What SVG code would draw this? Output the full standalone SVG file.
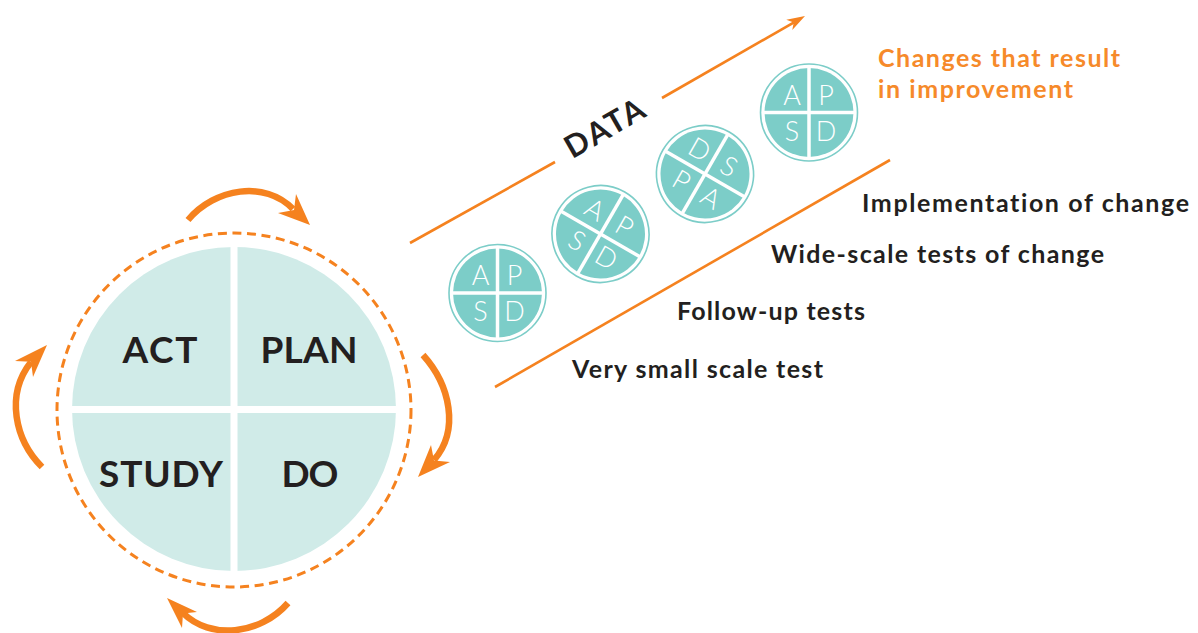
<svg xmlns="http://www.w3.org/2000/svg" width="1198" height="633" viewBox="0 0 1198 633">
  <style>
    text { font-variant-ligatures: none; }
    .quad { font-family: Lato, "Noto Sans", sans-serif; font-weight: 700; font-size: 37px; fill: #231f20; text-anchor: middle; }
    .label { font-family: Lato, "Noto Sans", sans-serif; font-weight: 700; font-size: 25px; fill: #231f20; }
    .result { font-family: Lato, "Noto Sans", sans-serif; font-weight: 700; font-size: 25px; fill: #f68a2a; }
    .data { font-family: Lato, "Noto Sans", sans-serif; font-weight: 700; font-size: 31px; fill: #231f20; text-anchor: middle; }
    .cyc { fill: none; stroke: #f5821f; stroke-width: 6.5; }
    .head { fill: #f5821f; }
    .trend { fill: none; stroke: #f5821f; stroke-width: 2.6; }
    .ring { fill: none; stroke: #7ccdc8; stroke-width: 1.6; }
    .disc { fill: #7ccdc8; }
    .cross { stroke: #ffffff; stroke-width: 3.5; }
    .ltr { font-family: Lato, "Noto Sans", sans-serif; font-weight: 300; font-size: 27px; fill: #ffffff; text-anchor: middle; }
  </style>
  <defs>
    <!-- small PDSA cycle: ring, disc and white cross centred on the origin -->
    <g id="mini">
      <circle class="ring" r="48.5"/>
      <circle class="disc" r="44.5"/>
      <line class="cross" x1="-46" y1="0" x2="46" y2="0"/>
      <line class="cross" x1="0" y1="-46" x2="0" y2="46"/>
    </g>
  </defs>

  <rect width="1198" height="633" fill="#ffffff"/>

  <!-- main PDSA wheel -->
  <g id="wheel">
    <circle cx="234" cy="409" r="162" fill="#d0ebe8"/>
    <line x1="234" y1="240" x2="234" y2="580" stroke="#ffffff" stroke-width="7"/>
    <line x1="65" y1="409.5" x2="403" y2="409.5" stroke="#ffffff" stroke-width="7"/>
    <circle cx="234" cy="410" r="177" fill="none" stroke="#f5821f" stroke-width="3" stroke-dasharray="9 5.6"/>
  </g>
  <g id="act"><text class="quad" x="160" y="363" textLength="75">ACT</text></g>
  <g id="plan"><text class="quad" x="309" y="363" textLength="97">PLAN</text></g>
  <g id="study"><text class="quad" x="161" y="487" textLength="124">STUDY</text></g>
  <g id="do"><text class="quad" x="310" y="487" textLength="57">DO</text></g>

  <!-- cycle arrows and trend lines -->
  <g id="connectors">
    <path class="cyc" d="M188,220 C215,188 265,180 293,209"/>
    <polygon class="head" points="310,225 278,213 294,210 296,194"/>
    <path class="cyc" d="M423,355 C450,385 460,430 434,460"/>
    <polygon class="head" points="418,477 431,445 434,460.5 450,462"/>
    <path class="cyc" d="M288,603 C260,635 210,640 183,613"/>
    <polygon class="head" points="167,598 197,612 183,613.4 182,628"/>
    <path class="cyc" d="M42,467 C15,440 5,395 31,362"/>
    <polygon class="head" points="47,345 15,361 31,361.8 33,377"/>

    <line class="trend" x1="410" y1="243" x2="555" y2="162"/>
    <line class="trend" x1="662" y1="98" x2="794" y2="22.4"/>
    <polygon class="head" points="805,16 786.3,19.7 793.7,22.4 792.3,30.1"/>
    <line class="trend" x1="495" y1="387" x2="890" y2="160"/>
  </g>

  <g id="data-label">
    <text class="data" transform="translate(608,130) rotate(-30)" x="-2" y="7.5" textLength="87">DATA</text>
  </g>

  <!-- successive PDSA cycles -->
  <g id="cycle1" transform="translate(497.5,293)">
    <use href="#mini"/>
    <text class="ltr" x="-17" y="-8">A</text>
    <text class="ltr" x="17" y="-8">P</text>
    <text class="ltr" x="-17" y="28">S</text>
    <text class="ltr" x="17" y="28">D</text>
  </g>
  <g id="cycle2" transform="translate(600.5,234) rotate(30)">
    <use href="#mini"/>
    <text class="ltr" x="-17" y="-9">A</text>
    <text class="ltr" x="17" y="-9">P</text>
    <text class="ltr" x="-17" y="27">S</text>
    <text class="ltr" x="17" y="27">D</text>
  </g>
  <g id="cycle3" transform="translate(705,174) rotate(30)">
    <use href="#mini"/>
    <text class="ltr" x="-17" y="-9">D</text>
    <text class="ltr" x="17" y="-9">S</text>
    <text class="ltr" x="-17" y="27">P</text>
    <text class="ltr" x="17" y="27">A</text>
  </g>
  <g id="cycle4" transform="translate(809,112.5)">
    <use href="#mini"/>
    <text class="ltr" x="-17" y="-8">A</text>
    <text class="ltr" x="17" y="-8">P</text>
    <text class="ltr" x="-17" y="28">S</text>
    <text class="ltr" x="17" y="28">D</text>
  </g>

  <!-- stage labels -->
  <g id="result">
    <text class="result" x="878" y="67" textLength="242">Changes that result</text>
    <text class="result" x="878" y="98" textLength="195">in improvement</text>
  </g>
  <g id="stage4"><text class="label" x="862" y="212" textLength="327">Implementation of change</text></g>
  <g id="stage3"><text class="label" x="771" y="263" textLength="333">Wide-scale tests of change</text></g>
  <g id="stage2"><text class="label" x="677" y="320" textLength="188">Follow-up tests</text></g>
  <g id="stage1"><text class="label" x="572" y="378" textLength="251">Very small scale test</text></g>
</svg>
